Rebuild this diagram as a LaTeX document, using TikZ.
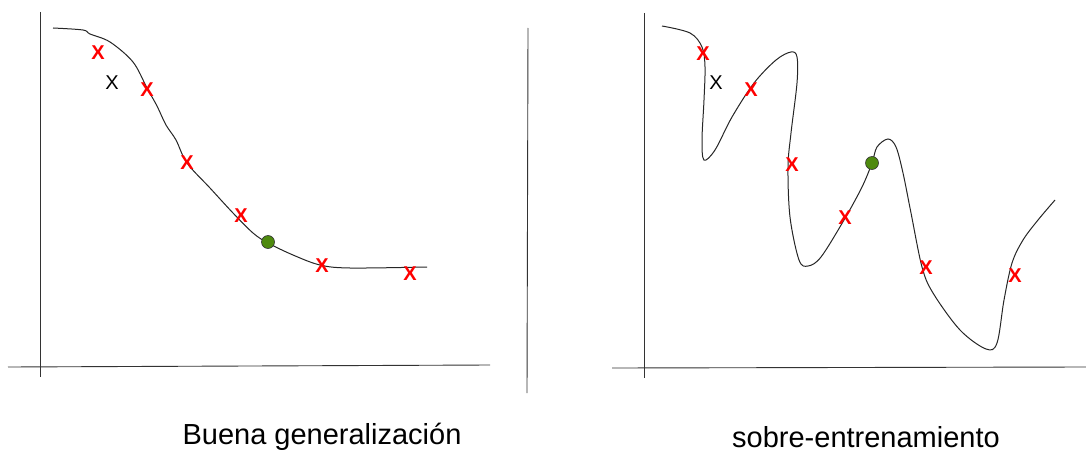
\documentclass[tikz,border=0pt]{standalone}
\usepackage{fontspec}
\setmainfont{Liberation Sans}
\definecolor{dotgreen}{HTML}{4E8A0E}
\definecolor{axisgray}{HTML}{333333}
\tikzset{
  axisline/.style={draw=axisgray, line width=0.9pt},
  curveline/.style={draw=black!85, line width=1pt, smooth, tension=0.55},
  redx/.style={text=red, font=\fontsize{20}{20}\selectfont\bfseries, inner sep=0pt},
  blackx/.style={text=black, font=\fontsize{20}{20}\selectfont, inner sep=0pt},
  gdot/.style={circle, fill=dotgreen, draw=black!80, line width=0.6pt, minimum size=13pt, inner sep=0pt},
  caption/.style={font=\fontsize{29}{29}\selectfont, inner sep=0pt}
}
\begin{document}
\begin{tikzpicture}[x=1pt, y=-1pt]
\useasboundingbox (0,0) rectangle (1086,452);
% left panel axes
\draw[axisline] (40,12) -- (40,377);
\draw[axisline] (8,367) -- (490,365);
% left curve
\draw[curveline] plot coordinates {(53,28) (83,30) (90,34) (110,42) (133,62) (147,88) (157,106) (166,125) (176,140) (187,163) (210,188) (233,213) (253,233) (268,243) (293,255) (320,265) (350,268) (427,267)};
\node[redx] (l1) at (98,53) {X};
\node[blackx] (lb) at (112,83) {X};
\node[redx] (l2) at (147,90) {X};
\node[redx] (l3) at (187,163) {X};
\node[redx] (l4) at (241,216) {X};
\node[gdot] (lg) at (268,242) {};
\node[redx] (l5) at (322,266) {X};
\node[redx] (l6) at (410,274) {X};
% separator
\draw[axisline] (528,28) -- (527,393);
% right panel axes
\draw[axisline] (644,13) -- (644,378);
\draw[axisline] (612,368) -- (1086,367);
% right curve
\draw[curveline] plot coordinates {(662,26) (690,33) (702,47) (705,67) (704,100) (702,140) (704,160) (715,150) (732,117) (754,83) (776,60) (791,52) (797,57) (797,83) (791,133) (788,167) (790,217) (799,260) (808,266) (821,257) (844,220) (862,187) (872,163) (877,147) (888,139) (896,147) (903,173) (911,213) (922,267) (933,293) (960,330) (986,349) (997,343) (1004,300) (1012,263) (1023,240) (1038,220) (1055,200)};
\node[redx] (r1) at (703,54) {X};
\node[blackx] (rb) at (716,83) {X};
\node[redx] (r2) at (751,90) {X};
\node[redx] (r3) at (792,165) {X};
\node[gdot] (rg) at (872,163) {};
\node[redx] (r4) at (845,218) {X};
\node[redx] (r5) at (926,268) {X};
\node[redx] (r6) at (1015,276) {X};
% captions
\node[caption] (c1) at (322,437) {Buena generalización};
\node[caption] (c2) at (866,437) {sobre-entrenamiento};
\end{tikzpicture}
\end{document}
